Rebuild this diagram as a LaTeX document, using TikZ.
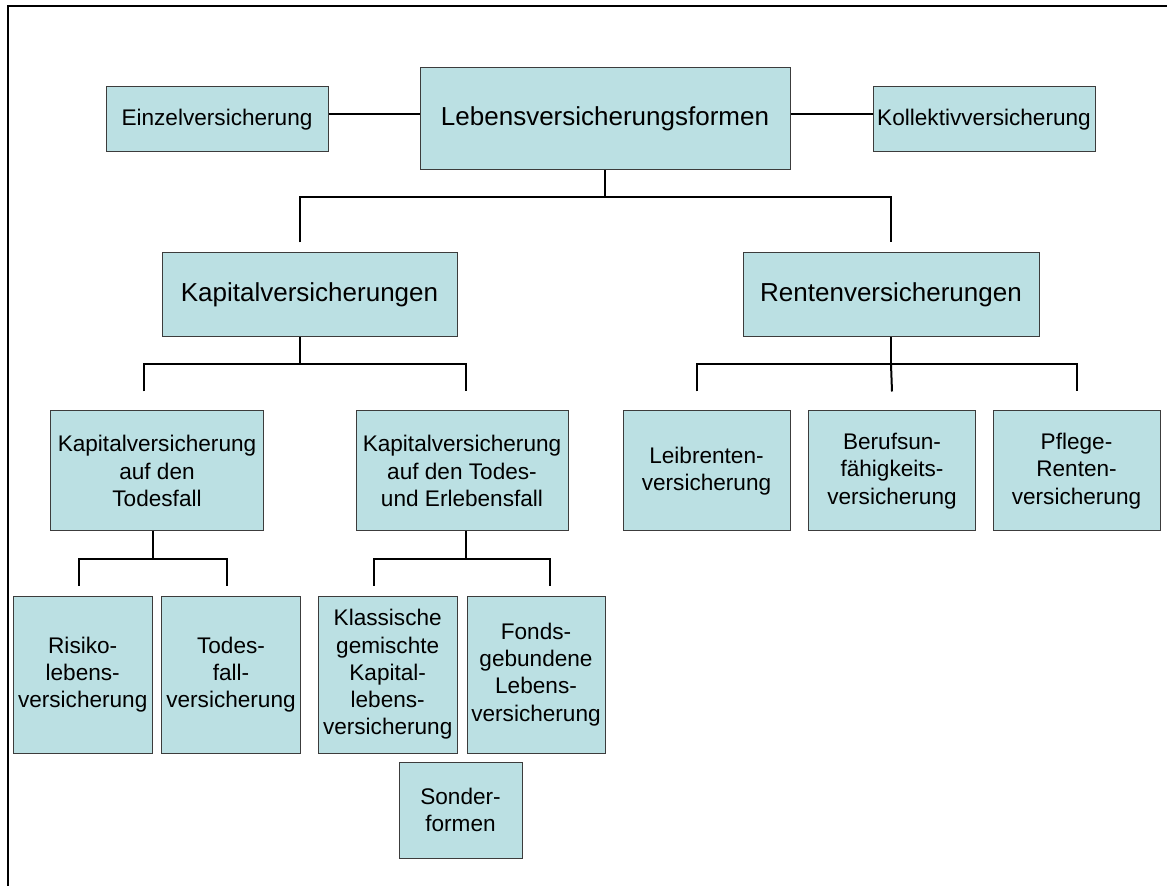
\documentclass[tikz,border=0pt]{standalone}
\usepackage{fontspec}
\setmainfont{Liberation Sans}
\usepackage{tikz}
\definecolor{boxblue}{RGB}{187,224,227}
\definecolor{boxline}{RGB}{60,60,60}
\tikzset{
  box/.style={draw=boxline, fill=boxblue, line width=0.5pt, inner sep=0pt, align=center},
  big/.style={font=\fontsize{13}{15}\selectfont},
  mid/.style={font=\fontsize{11.3}{13.75}\selectfont},
  small/.style={font=\fontsize{11.3}{13.6}\selectfont},
  link/.style={line width=1pt}
}

\begin{document}
\begin{tikzpicture}[x=0.5pt,y=-0.5pt]
\useasboundingbox (0,0) rectangle (1176,886) ;
\draw [line width=1.3pt] (8,886) -- (8,6) -- (1167,6) ;
\node [box, big, minimum width=185pt, minimum height=51pt] (lebens) at (605,119) {Lebensversicherungsformen} ;
\node [box, mid, minimum width=111pt, minimum height=32.5pt] (einzel) at (217,119.5) {Einzelversicherung} ;
\node [box, mid, minimum width=111pt, minimum height=32.5pt] (kollektiv) at (984,119.5) {Kollektivversicherung} ;
\node [box, big, minimum width=147.5pt, minimum height=42pt] (kapital) at (309.5,295) {Kapitalversicherungen} ;
\node [box, big, minimum width=148pt, minimum height=42pt] (renten) at (891,295) {Rentenversicherungen} ;
\node [box, mid, minimum width=106.25pt, minimum height=60pt] (kaptod) at (157,471) {Kapitalversicherung\\auf den\\Todesfall} ;
\node [box, mid, minimum width=106pt, minimum height=60pt] (kaperl) at (462,471) {Kapitalversicherung\\auf den Todes-\\und Erlebensfall} ;
\node [box, small, minimum width=83.5pt, minimum height=60pt] (leib) at (706.5,471) {Leibrenten-\\versicherung} ;
\node [box, small, minimum width=83.5pt, minimum height=60pt] (beruf) at (892,471) {Berufsun-\\fähigkeits-\\versicherung} ;
\node [box, small, minimum width=83.5pt, minimum height=60pt] (pflege) at (1076.5,471) {Pflege-\\Renten-\\versicherung} ;
\node [box, small, minimum width=69.3pt, minimum height=78.5pt] (risiko) at (82.7,674.5) {Risiko-\\lebens-\\versicherung} ;
\node [box, small, minimum width=69.5pt, minimum height=78.5pt] (todesfall) at (231,674.5) {Todes-\\fall-\\versicherung} ;
\node [box, small, minimum width=69.5pt, minimum height=78.5pt] (klassisch) at (387.7,674.5) {Klassische\\gemischte\\Kapital-\\lebens-\\versicherung} ;
\node [box, small, minimum width=69pt, minimum height=78.5pt] (fonds) at (536,674.5) {Fonds-\\gebundene\\Lebens-\\versicherung} ;
\node [box, small, minimum width=61.5pt, minimum height=48pt] (sonder) at (460.5,810) {Sonder-\\formen} ;
\draw [link] ([yshift=2.5pt]einzel.east) -- ([yshift=2.5pt]einzel.east -| lebens.west) ;
\draw [link] ([yshift=2.5pt]kollektiv.west) -- ([yshift=2.5pt]kollektiv.west -| lebens.east) ;
\draw [link] (lebens.south) -- ++(0,27) coordinate (bus1) ;
\draw [link] ([xshift=-4.75pt,yshift=5pt]kapital.north) |- (bus1) -| ([yshift=5pt]renten.north) ;
\draw [link] ([xshift=-4.75pt]kapital.south) -- ++(0,27) coordinate (bus2) ;
\draw [link] ([xshift=-6.75pt,yshift=9.5pt]kaptod.north) |- (bus2) -| ([xshift=2pt,yshift=9.5pt]kaperl.north) ;
\draw [link] (renten.south) -- ++(0,27) coordinate (bus3) ;
\draw [link] ([xshift=-4.75pt,yshift=9.5pt]leib.north) |- (bus3) -| ([yshift=9.5pt]pflege.north) ;
\draw [link] (bus3) -- ([yshift=9.5pt]beruf.north) ;
\draw [link] ([xshift=-2pt]kaptod.south) -- ++(0,27) coordinate (bus4) ;
\draw [link] ([xshift=-2.1pt,yshift=5pt]risiko.north) |- (bus4) -| ([xshift=-2.25pt,yshift=5pt]todesfall.north) ;
\draw [link] ([xshift=2pt]kaperl.south) -- ++(0,27) coordinate (bus5) ;
\draw [link] ([xshift=-6.85pt,yshift=5pt]klassisch.north) |- (bus5) -| ([xshift=7pt,yshift=5pt]fonds.north) ;
\end{tikzpicture}
\end{document}
